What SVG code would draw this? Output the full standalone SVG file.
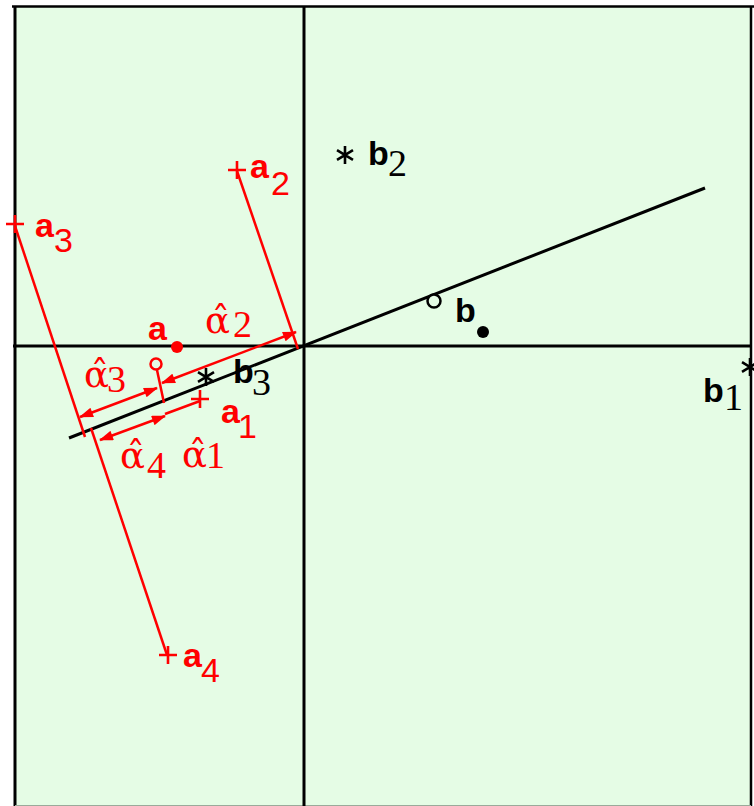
<svg xmlns="http://www.w3.org/2000/svg" width="754" height="806" viewBox="0 0 754 806">
<defs>
<marker id="ah" viewBox="0 0 14 10" refX="13" refY="5" markerWidth="15" markerHeight="10" markerUnits="userSpaceOnUse" orient="auto-start-reverse"><path d="M0,0 L14,5 L0,10 z" fill="#ff0000"/></marker>
<path id="ast" d="M0,-9 V9 M-8,-4.8 L8,4.8 M-8,4.8 L8,-4.8" stroke="#000" stroke-width="2.6" fill="none"/>
<path id="plus" d="M-9,0 H9 M0,-9 V9" stroke="#ff0000" stroke-width="2.6" fill="none"/>
</defs>
<style>
.ax{stroke:#000;stroke-width:3;fill:none}
.rl{stroke:#ff0000;stroke-width:2.5;fill:none}
.arr{stroke:#ff0000;stroke-width:2.5;fill:none;marker-start:url(#ah);marker-end:url(#ah)}
.bk{font-family:"Liberation Sans",Arial,sans-serif;font-weight:bold;font-size:34px;fill:#000}
.bs{font-family:"Liberation Serif","Times New Roman",serif;font-size:38px;font-weight:normal}
.ra{font-family:"Liberation Sans",Arial,sans-serif;font-weight:bold;font-size:34px;fill:#ff0000}
.rs{font-weight:normal}
.al{font-family:"Liberation Serif","Times New Roman",serif;font-size:38px;fill:#ff0000}
.ag{font-family:"DejaVu Serif",serif;font-size:37px}
</style>
<g id="frame">
<rect x="15" y="7" width="736" height="799" fill="#e5fce5"/>
<line x1="12" y1="6.5" x2="754" y2="6.5" stroke="#000" stroke-width="2.5"/>
<line x1="15" y1="6" x2="15" y2="806" stroke="#000" stroke-width="3"/>
<line x1="751" y1="6" x2="751" y2="806" stroke="#000" stroke-width="2.5"/>
<line x1="15" y1="805.5" x2="751" y2="805.5" stroke="#9aaa9a" stroke-width="1"/>
</g>
<g id="connectors">
<line class="ax" x1="304" y1="7" x2="304" y2="806"/>
<line class="ax" x1="13" y1="346" x2="752" y2="346"/>
<line class="ax" x1="69" y1="438" x2="705" y2="188"/>
<line class="rl" x1="237" y1="171" x2="298" y2="349"/>
<line class="rl" x1="15" y1="226" x2="85" y2="437"/>
<line class="rl" x1="91" y1="428" x2="167" y2="655"/>
<line class="rl" x1="157" y1="370" x2="164" y2="403"/>
<line class="rl" x1="165" y1="414" x2="200" y2="401"/>
<line class="arr" x1="162" y1="383" x2="296" y2="332"/>
<line class="arr" x1="80" y1="417" x2="157" y2="388"/>
<line class="arr" x1="100" y1="440" x2="165" y2="416"/>
</g>
<g id="b2"><use href="#ast" x="345" y="155"/><text class="bk" x="368" y="165">b<tspan class="bs" x="388" y="176">2</tspan></text></g>
<g id="b1"><use href="#ast" x="750" y="367"/><text class="bk" x="703" y="402">b<tspan class="bs" x="724" y="410">1</tspan></text></g>
<g id="b3"><use href="#ast" x="206" y="377"/><text class="bk" x="233" y="383">b<tspan class="bs" x="252" y="395">3</tspan></text></g>
<g id="b"><circle cx="434" cy="301" r="6.5" fill="#e5fce5" stroke="#000" stroke-width="2.5"/><text class="bk" x="455" y="322">b</text><circle cx="483" cy="332" r="6" fill="#000"/></g>
<g id="a"><circle cx="177" cy="347" r="6" fill="#ff0000"/><text class="ra" x="148" y="340">a</text></g>
<g id="o"><circle cx="156" cy="364" r="5.5" fill="none" stroke="#ff0000" stroke-width="2.5"/></g>
<g id="a2"><use href="#plus" x="237" y="170"/><text class="ra" x="250" y="178">a<tspan class="rs" x="271" y="195">2</tspan></text></g>
<g id="a3"><use href="#plus" x="15" y="224"/><text class="ra" x="35" y="237">a<tspan class="rs" x="54" y="252">3</tspan></text></g>
<g id="a4"><use href="#plus" x="168" y="655"/><text class="ra" x="183" y="667">a<tspan class="rs" x="201" y="682">4</tspan></text></g>
<g id="a1"><use href="#plus" x="200" y="399"/><text class="ra" x="221" y="423">a<tspan class="rs" x="238" y="438">1</tspan></text></g>
<g id="alpha2"><text class="al" x="205" y="333"><tspan class="ag">α̂</tspan><tspan x="233" y="337">2</tspan></text></g>
<g id="alpha3"><text class="al" x="84" y="387"><tspan class="ag">α̂</tspan><tspan x="107" y="392">3</tspan></text></g>
<g id="alpha4"><text class="al" x="120" y="468"><tspan class="ag">α̂</tspan><tspan x="147" y="478">4</tspan></text></g>
<g id="alpha1"><text class="al" x="182" y="467"><tspan class="ag">α̂</tspan><tspan x="206" y="468">1</tspan></text></g>
</svg>
